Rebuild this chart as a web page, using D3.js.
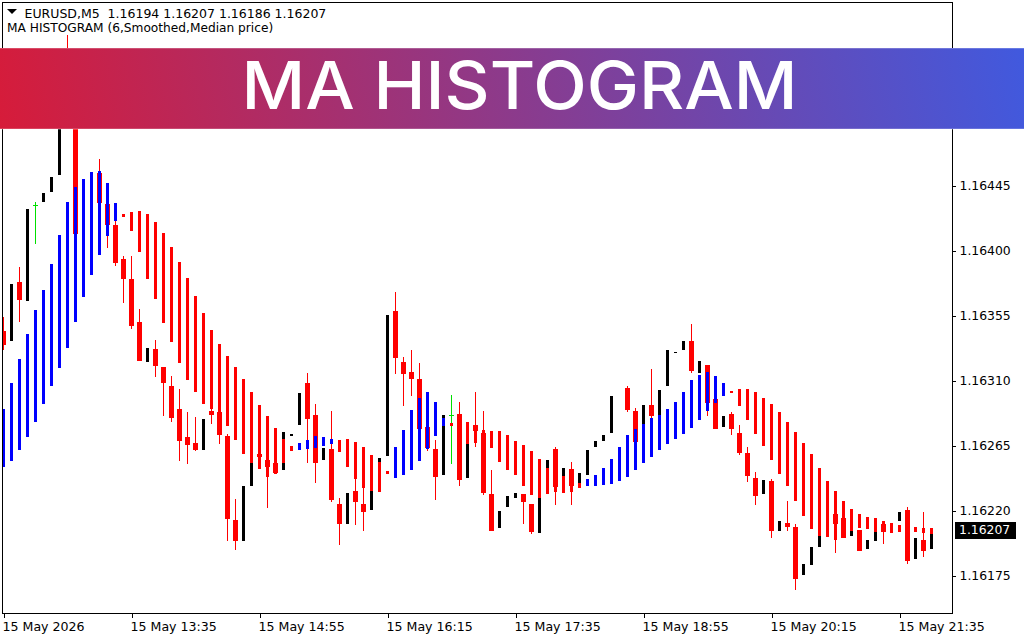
<!DOCTYPE html>
<html><head><meta charset="utf-8">
<script src="https://cdn.jsdelivr.net/npm/d3@7/dist/d3.min.js"></script>
<style>html,body{margin:0;padding:0;background:#fff;overflow:hidden}svg{display:block}
text{font-family:"DejaVu Sans",sans-serif}</style></head><body>
<svg id="c" width="1024" height="640"></svg>
<script>
const symbol="EURUSD,M5  1.16194 1.16207 1.16186 1.16207";
const indicator="MA HISTOGRAM (6,Smoothed,Median price)";
const title="MA HISTOGRAM";
const priceTicks=[1.16445,1.16400,1.16355,1.16310,1.16265,1.16220,1.16175];
const lastPrice=1.16207;
const timeTickBars=[0,16,32,48,64,80,96,112];
const timeTickLabels=["15 May 2026","15 May 13:35","15 May 14:55","15 May 16:15","15 May 17:35","15 May 18:55","15 May 20:15","15 May 21:35"];
const openPrice=[1.163446,1.163377,1.163785,1.163654,1.164316,1.164339,1.164408,1.164526,1.165322,1.165149,1.164145,1.164000,1.164540,1.164325,1.164180,1.163945,1.163806,1.163508,1.163231,1.163322,1.163197,1.163065,1.162906,1.162712,1.162671,1.162622,1.162892,1.162885,1.162719,1.162138,1.161992,1.162373,1.162595,1.162553,1.162532,1.162484,1.162720,1.162795,1.163086,1.162865,1.162553,1.162629,1.162248,1.162110,1.162338,1.162248,1.162207,1.162484,1.162581,1.163585,1.163231,1.163162,1.163114,1.162782,1.162629,1.162449,1.162865,1.162872,1.162429,1.162795,1.162740,1.162318,1.162082,1.162228,1.162290,1.162318,1.162248,1.162047,1.162415,1.162629,1.162415,1.162491,1.162380,1.162449,1.162643,1.162685,1.162740,1.162484,1.163051,1.162892,1.162802,1.162934,1.162865,1.163065,1.163294,1.163315,1.163377,1.163155,1.163211,1.162975,1.162782,1.162872,1.162740,1.162601,1.162428,1.162318,1.162408,1.162061,1.162117,1.162089,1.161757,1.161826,1.161951,1.162138,1.162179,1.162152,1.162027,1.162068,1.161937,1.161992,1.162110,1.162068,1.162131,1.162207,1.161868,1.161999,1.161940];
const closePrice=[1.163349,1.163772,1.163661,1.164291,1.164316,1.164402,1.164512,1.165080,1.165115,1.164118,1.164353,1.164200,1.164332,1.164180,1.163917,1.163806,1.163481,1.163238,1.163329,1.163204,1.163086,1.162844,1.162685,1.162657,1.162622,1.162837,1.162865,1.162726,1.162145,1.161992,1.162373,1.162622,1.162574,1.162505,1.162463,1.162747,1.162733,1.163017,1.162837,1.162532,1.162636,1.162276,1.162110,1.162325,1.162262,1.162193,1.162338,1.162567,1.163557,1.163259,1.163149,1.163114,1.162768,1.162636,1.162435,1.162865,1.162865,1.162415,1.162761,1.162754,1.162325,1.162061,1.162200,1.162304,1.162325,1.162262,1.162054,1.162290,1.162553,1.162366,1.162498,1.162373,1.162463,1.162622,1.162685,1.162726,1.162996,1.162553,1.162899,1.162678,1.162934,1.162858,1.163038,1.163315,1.163301,1.163377,1.163169,1.163238,1.162948,1.162768,1.162858,1.162768,1.162601,1.162442,1.162304,1.162415,1.162061,1.162131,1.162089,1.161729,1.161833,1.161951,1.162027,1.162207,1.162110,1.162013,1.162061,1.161923,1.161999,1.162054,1.162054,1.162103,1.162193,1.161854,1.162013,1.161923,1.162070];
const highPrice=[1.163543,1.163772,1.163889,1.164291,1.164339,1.164402,1.164512,1.165080,1.165495,1.165149,1.164353,1.164200,1.164637,1.164325,1.164208,1.163965,1.163965,1.163598,1.163329,1.163384,1.163197,1.163135,1.163045,1.162885,1.162851,1.162837,1.162906,1.162885,1.162733,1.162283,1.162373,1.162622,1.162595,1.162553,1.162532,1.162747,1.162733,1.163017,1.163155,1.162941,1.162636,1.162892,1.162290,1.162325,1.162422,1.162359,1.162338,1.162567,1.163557,1.163716,1.163266,1.163315,1.163225,1.162782,1.162692,1.162865,1.163003,1.162955,1.162761,1.163024,1.162892,1.162484,1.162200,1.162304,1.162325,1.162318,1.162248,1.162290,1.162553,1.162643,1.162498,1.162539,1.162463,1.162622,1.162685,1.162726,1.162996,1.162553,1.163065,1.162913,1.162934,1.163183,1.163038,1.163315,1.163301,1.163377,1.163495,1.163238,1.163211,1.162975,1.162858,1.162885,1.162795,1.162643,1.162470,1.162415,1.162422,1.162131,1.162269,1.162110,1.161833,1.161951,1.162027,1.162207,1.162179,1.162152,1.162061,1.162068,1.161999,1.162054,1.162110,1.162103,1.162193,1.162228,1.162013,1.162193,1.162070];
const lowPrice=[1.163315,1.163377,1.163508,1.163654,1.164049,1.164339,1.164408,1.164526,1.165045,1.164118,1.164145,1.164000,1.164332,1.164021,1.163896,1.163640,1.163460,1.163238,1.163231,1.163128,1.162858,1.162816,1.162546,1.162525,1.162615,1.162622,1.162802,1.162664,1.161992,1.161930,1.161992,1.162373,1.162574,1.162221,1.162456,1.162484,1.162720,1.162795,1.162532,1.162394,1.162553,1.162262,1.161965,1.162110,1.162103,1.162061,1.162207,1.162484,1.162581,1.163149,1.162927,1.162996,1.162768,1.162615,1.162276,1.162449,1.162525,1.162373,1.162429,1.162643,1.162311,1.162061,1.162082,1.162228,1.162290,1.162110,1.162041,1.162047,1.162415,1.162241,1.162415,1.162241,1.162380,1.162449,1.162643,1.162685,1.162740,1.162484,1.162885,1.162678,1.162802,1.162844,1.162865,1.163065,1.163294,1.163315,1.163155,1.163155,1.162858,1.162768,1.162782,1.162726,1.162588,1.162401,1.162241,1.162318,1.162013,1.162061,1.162061,1.161653,1.161757,1.161826,1.161951,1.162138,1.161909,1.162013,1.162027,1.161923,1.161937,1.161992,1.161972,1.162068,1.162131,1.161833,1.161868,1.161882,1.161860];
const histA=[1.162906,1.163086,1.163252,1.163425,1.163592,1.163730,1.163910,1.164111,1.164339,1.164443,1.164499,1.164547,1.164554,1.164471,1.164332,1.164256,1.164270,1.164277,1.164256,1.164201,1.164125,1.164028,1.163924,1.163813,1.163688,1.163571,1.163453,1.163356,1.163273,1.163197,1.163114,1.163024,1.162934,1.162858,1.162775,1.162699,1.162650,1.162671,1.162692,1.162720,1.162712,1.162699,1.162692,1.162699,1.162678,1.162643,1.162588,1.162540,1.162477,1.162643,1.162761,1.162899,1.162982,1.163024,1.162955,1.162844,1.162809,1.162754,1.162816,1.162754,1.162761,1.162754,1.162754,1.162726,1.162685,1.162657,1.162615,1.162560,1.162498,1.162484,1.162442,1.162415,1.162394,1.162422,1.162449,1.162498,1.162560,1.162643,1.162726,1.162768,1.162802,1.162844,1.162865,1.162906,1.162955,1.163024,1.163107,1.163142,1.163162,1.163135,1.163086,1.163031,1.163045,1.163045,1.163024,1.162982,1.162941,1.162885,1.162816,1.162747,1.162671,1.162595,1.162498,1.162408,1.162338,1.162269,1.162214,1.162180,1.162158,1.162151,1.162131,1.162117,1.162103,1.162173,1.162089,1.162082,1.162082];
const histB=[1.162505,1.162546,1.162622,1.162712,1.162816,1.162941,1.163065,1.163190,1.163329,1.163508,1.163682,1.163834,1.163972,1.164104,1.164208,1.164235,1.164138,1.163993,1.163806,1.163668,1.163502,1.163370,1.163225,1.163107,1.163024,1.162941,1.162906,1.162878,1.162788,1.162692,1.162595,1.162532,1.162491,1.162435,1.162456,1.162532,1.162615,1.162622,1.162629,1.162636,1.162650,1.162664,1.162608,1.162505,1.162422,1.162359,1.162338,1.162331,1.162456,1.162429,1.162449,1.162484,1.162546,1.162629,1.162720,1.162788,1.162788,1.162456,1.162664,1.162671,1.162345,1.162636,1.162540,1.162484,1.162449,1.162373,1.162311,1.162290,1.162318,1.162331,1.162324,1.162331,1.162359,1.162373,1.162373,1.162380,1.162387,1.162408,1.162435,1.162484,1.162532,1.162574,1.162622,1.162664,1.162699,1.162733,1.162775,1.162830,1.162892,1.162948,1.162996,1.163017,1.162927,1.162830,1.162733,1.162650,1.162553,1.162456,1.162373,1.162269,1.162165,1.162075,1.162027,1.162020,1.161999,1.162151,1.162061,1.162082,1.162075,1.162054,1.162110,1.162047,1.162054,1.161999,1.162054,1.162047,1.162039];
const histTrend="UUUUUUUUUUUUUUUDDDDDDDDDDDDDDDDDDDDDDUUUUUDDDDDDDUUUUUUUDDDDDDDDDDDDDDDDDUUUUUUUUUUUUUUUUUUDDDDDDDDDDDDDDDDDDDDDDDDDD";

const svg=d3.select("#c");
const W=1024,H=640,plotL=2.5,plotR=952.5,plotT=2.5,plotB=613.5;
const labelFont='"DejaVu Sans",sans-serif';
const x=d3.scaleLinear().domain([0,116]).range([3.5,931.5]);
const y=d3.scaleLinear().domain([1.16175,1.16445]).range([576,186]);
const Y=v=>Math.round(y(v));
const bars=d3.range(openPrice.length);
const defs=svg.append("defs");
defs.append("clipPath").attr("id","plot").append("rect").attr("x",3).attr("y",3).attr("width",949).attr("height",610);
const g=defs.append("linearGradient").attr("id","band").attr("gradientUnits","userSpaceOnUse")
  .attr("x1",0).attr("y1",190).attr("x2",1024).attr("y2",-10);
g.append("stop").attr("offset",0).attr("stop-color","#d81b38");
g.append("stop").attr("offset",1).attr("stop-color","#3f5ae0");

const plot=svg.append("g").attr("clip-path","url(#plot)").attr("shape-rendering","crispEdges");
const bodyColor=i=>closePrice[i]>openPrice[i]?"#000":closePrice[i]<openPrice[i]?"#f00":"#00e000";
plot.selectAll("rect.w").data(bars.filter(i=>closePrice[i]<=openPrice[i])).join("rect").attr("class","w")
  .attr("x",i=>x(i)-0.5).attr("width",1).attr("y",i=>Y(highPrice[i])).attr("height",i=>Math.max(1,Y(lowPrice[i])-Y(highPrice[i])))
  .attr("fill",bodyColor);
plot.selectAll("rect.b").data(bars).join("rect").attr("class","b")
  .attr("x",i=>closePrice[i]>openPrice[i]?x(i)-1.5:x(i)-2.5)
  .attr("width",i=>closePrice[i]>openPrice[i]?3:5)
  .attr("y",i=>Y(Math.max(openPrice[i],closePrice[i])))
  .attr("height",i=>Math.max(1,Y(Math.min(openPrice[i],closePrice[i]))-Y(Math.max(openPrice[i],closePrice[i]))))
  .attr("fill",bodyColor);
plot.selectAll("rect.h").data(bars).join("rect").attr("class","h")
  .attr("x",i=>x(i)-1.5).attr("width",3)
  .attr("y",i=>Y(histA[i])).attr("height",i=>Math.max(1,Y(histB[i])-Y(histA[i])))
  .attr("fill",i=>histTrend[i]==="U"?"#0000ff":"#ff0000");

const frame=svg.append("g").attr("shape-rendering","crispEdges").attr("stroke","#000").attr("fill","none");
frame.append("rect").attr("x",plotL).attr("y",plotT).attr("width",plotR-plotL).attr("height",plotB-plotT);

const ay=svg.append("g").attr("transform",`translate(${plotR},0)`)
  .call(d3.axisRight(y).tickValues(priceTicks).tickFormat(d3.format(".5f")).tickSize(3).tickPadding(4));
ay.select(".domain").remove();
ay.selectAll("line").attr("shape-rendering","crispEdges").attr("stroke","#000");
ay.selectAll("text").attr("font-size",12.4).attr("fill","#000").style("font-family",labelFont);
const ax=svg.append("g").attr("transform",`translate(0,${plotB})`)
  .call(d3.axisBottom(x).tickValues(timeTickBars).tickFormat((d,i)=>timeTickLabels[i]).tickSize(4).tickPadding(5));
ax.select(".domain").remove();
ax.selectAll("line").attr("shape-rendering","crispEdges").attr("stroke","#000");
ax.selectAll("text").attr("font-size",12.6).attr("fill","#000").attr("text-anchor","start").attr("dx",-1.5)
  .style("font-family",labelFont);

const tagY=y(lastPrice);
svg.append("rect").attr("x",955).attr("y",Math.round(tagY)-8).attr("width",61).attr("height",17).attr("fill","#000");
svg.append("text").attr("x",959).attr("y",tagY+4.5).attr("font-size",12.4).attr("fill","#fff").text(d3.format(".5f")(lastPrice));

svg.append("path").attr("d",d3.line()([[7,9],[17,9],[12,14]])+"Z").attr("fill","#000");
svg.append("text").attr("x",24.5).attr("y",18).attr("font-size",12.5).attr("fill","#000").style("white-space","pre").text(symbol);
svg.append("text").attr("x",7).attr("y",32).attr("font-size",12.2).attr("fill","#000").text(indicator);

svg.append("rect").attr("x",0).attr("y",48).attr("width",W).attr("height",81).attr("fill","url(#band)");
svg.append("rect").attr("x",0).attr("y",48).attr("width",W).attr("height",1).attr("fill","#fff").attr("opacity",.2);
svg.append("rect").attr("x",0).attr("y",128.5).attr("width",W).attr("height",1.2).attr("fill","#fff").attr("opacity",.35);
svg.append("text").attr("x",241.5).attr("y",109).attr("font-size",65.5).attr("font-weight",500).attr("fill","#fff")
  .attr("textLength",556).attr("lengthAdjust","spacingAndGlyphs").style("font-family",'Inter,"Open Sans",sans-serif').text(title);
</script></body></html>
